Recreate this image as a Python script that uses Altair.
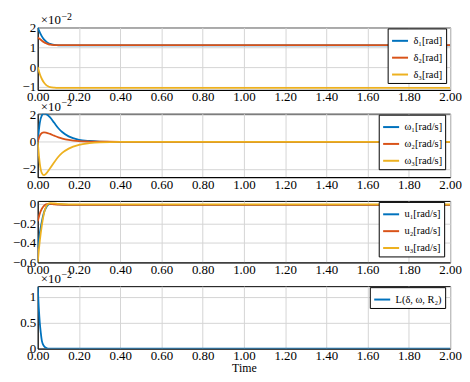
import altair as alt
import pandas as pd

# ---- data (values as shown on each axis) ----
# Panel 1: delta (x1e-2)
t_d = [0, 0.01, 0.02, 0.03, 0.04, 0.05, 0.06, 0.08, 0.10, 0.15, 2.0]
d1 = [2.0, 1.75, 1.55, 1.40, 1.30, 1.22, 1.17, 1.12, 1.10, 1.10, 1.10]
d2 = [1.5, 1.42, 1.33, 1.26, 1.20, 1.16, 1.13, 1.11, 1.11, 1.11, 1.11]
d3 = [0.0, -0.35, -0.60, -0.78, -0.90, -0.97, -1.01, -1.04, -1.05, -1.05, -1.05]

# Panel 2: omega (x1e-2)
t_w = [0, 0.01, 0.02, 0.03, 0.04, 0.06, 0.08, 0.10, 0.12, 0.15, 0.20, 0.25, 0.30, 0.40, 2.0]
w1 = [0, 1.40, 1.95, 2.10, 2.05, 1.80, 1.40, 1.00, 0.70, 0.40, 0.15, 0.06, 0.02, 0.0, 0.0]
w2 = [0, 0.45, 0.65, 0.70, 0.68, 0.58, 0.45, 0.33, 0.24, 0.14, 0.05, 0.02, 0.01, 0.0, 0.0]
w3 = [0, -1.60, -2.30, -2.45, -2.35, -1.95, -1.50, -1.10, -0.80, -0.50, -0.22, -0.10, -0.04, -0.01, 0.0]

# Panel 3: u
t_u = [0, 0.01, 0.02, 0.03, 0.04, 0.05, 0.06, 0.08, 0.10, 0.15, 2.0]
u1 = [-0.45, -0.30, -0.18, -0.09, -0.04, -0.01, 0.0, 0.0, -0.005, -0.01, -0.01]
u2 = [-0.18, -0.10, -0.05, -0.02, -0.005, 0.0, 0.0, -0.005, -0.008, -0.01, -0.01]
u3 = [-0.60, -0.38, -0.22, -0.10, -0.03, 0.0, 0.008, 0.005, 0.0, -0.005, -0.005]

# Panel 4: L (x1e-2)
t_L = [0, 0.005, 0.01, 0.015, 0.02, 0.03, 0.04, 0.05, 2.0]
L = [1.2, 0.80, 0.50, 0.30, 0.15, 0.05, 0.015, 0.0, 0.0]

x_ticks = [0, 0.2, 0.4, 0.6, 0.8, 1.0, 1.2, 1.4, 1.6, 1.8, 2.0]
colors = ["#0072BD", "#D95319", "#EDB120"]
FONT = "Liberation Serif"
W = 416


def frame(ts, series, names):
    rows = []
    for ys, n in zip(series, names):
        for t, y in zip(ts, ys):
            rows.append({"t": t, "v": y, "s": n})
    return pd.DataFrame(rows)


def panel(df, names, ydom, yticks, scaled, h, legend_w, show_title=False):
    yaxis_kw = dict(values=yticks, format="~g", labelFont=FONT, labelFontSize=13,
                    domainColor="black", ticks=False, labelOverlap=False,
                    gridColor="#d4d4d4", labelPadding=2, title=None)
    xaxis_kw = dict(values=x_ticks, format=".2f", labelFont=FONT, labelFontSize=13,
                    domainColor="black", ticks=False, labelOverlap=False,
                    gridColor="#d4d4d4", labelPadding=1, labelFlush=False)
    if show_title:
        xaxis_kw.update(title="Time", titleFont=FONT, titleFontSize=12,
                        titleFontWeight="normal", titlePadding=0)
    else:
        xaxis_kw["title"] = None
    lines = alt.Chart(df).mark_line(strokeWidth=1.8, interpolate="monotone", clip=True).encode(
        x=alt.X("t:Q", scale=alt.Scale(domain=[0, 2], nice=False), axis=alt.Axis(**xaxis_kw)),
        y=alt.Y("v:Q", scale=alt.Scale(domain=ydom, nice=False, zero=False), axis=alt.Axis(**yaxis_kw)),
        color=alt.Color("s:N", scale=alt.Scale(domain=names, range=colors[:len(names)]),
                        legend=alt.Legend(title=None, orient="none",
                                          legendX=W - 8 - legend_w, legendY=1,
                                          strokeColor="black", fillColor="white",
                                          padding=3, labelFont=FONT, labelFontSize=10.5,
                                          symbolType="stroke", symbolStrokeWidth=2,
                                          symbolSize=260, rowPadding=2, labelLimit=200)),
    )
    layers = [lines]
    if scaled:
        base = alt.Chart(pd.DataFrame({"a": [0]}))
        layers.append(base.mark_text(text="×10", font=FONT, fontSize=13, align="left",
                                     baseline="alphabetic").encode(
            x=alt.value(3), y=alt.value(-3)))
        layers.append(base.mark_text(text="−2", font=FONT, fontSize=10, align="left",
                                     baseline="alphabetic").encode(
            x=alt.value(24), y=alt.value(-8)))
    return alt.layer(*layers).properties(width=W, height=h)


n1 = ["δ₁[rad]", "δ₂[rad]", "δ₃[rad]"]
n2 = ["ω₁[rad/s]", "ω₂[rad/s]", "ω₃[rad/s]"]
n3 = ["u₁[rad/s]", "u₂[rad/s]", "u₃[rad/s]"]
n4 = ["L(δ, ω, R₂)"]

p1 = panel(frame(t_d, [d1, d2, d3], n1), n1, [-1.15, 2.0], [-1, 0, 1, 2], True, 63, 55)
p2 = panel(frame(t_w, [w1, w2, w3], n2), n2, [-2.6, 2.07], [-2, 0, 2], True, 64, 64)
p3 = panel(frame(t_u, [u1, u2, u3], n3), n3, [-0.6, 0.03], [-0.6, -0.4, -0.2, 0], False, 62, 64)
p4 = panel(frame(t_L, [L], n4), n4, [0, 1.21], [0, 0.5, 1], True, 63, 73, show_title=True)

chart = alt.vconcat(p1, p2, p3, p4, spacing=24, bounds="flush").resolve_scale(
    color="independent").resolve_legend(color="independent").configure_view(
    stroke="black", strokeWidth=1).properties(
    padding={"left": 3, "top": 1, "right": 0, "bottom": 0})

chart.save("out.html", embed_options={"renderer": "svg", "actions": False})
